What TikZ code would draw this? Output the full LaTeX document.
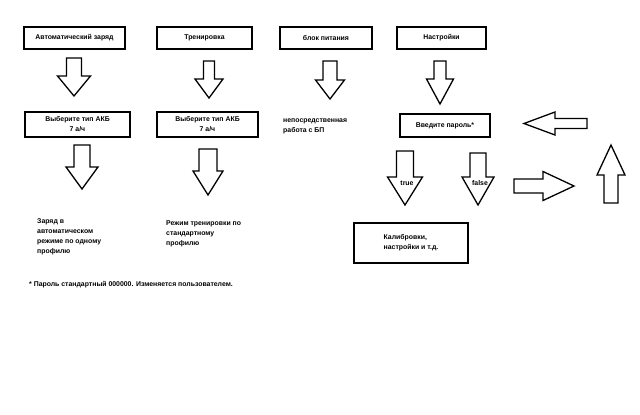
\documentclass[tikz,border=0pt]{standalone}
\usepackage{fontspec}
\setmainfont{Liberation Sans}
\usetikzlibrary{positioning}

\tikzset{
  menubox/.style={draw, line width=2.2pt, inner sep=0pt, align=center},
  blockarr/.style={draw, line width=1.3pt, line join=miter, fill=white},
  plaintext/.style={anchor=west, align=left, inner sep=0pt}
}

% down (or up) block arrow: cx, tail, head start, tip, half shaft, half head
\newcommand{\vertarrow}[6]{%
  \draw[blockarr] (#1-#5,#2) -- (#1+#5,#2) -- (#1+#5,#3) -- (#1+#6,#3) -- (#1,#4)
    -- (#1-#6,#3) -- (#1-#5,#3) -- cycle;}
% left (or right) block arrow: cy, tail, head start, tip, half shaft, half head
\newcommand{\horizarrow}[6]{%
  \draw[blockarr] (#2,#1-#5) -- (#2,#1+#5) -- (#3,#1+#5) -- (#3,#1+#6) -- (#4,#1)
    -- (#3,#1-#6) -- (#3,#1-#5) -- cycle;}

\begin{document}
\begin{tikzpicture}[x=1pt, y=-1pt, font=\bfseries\fontsize{6.9}{10}\selectfont]
			\fill[white] (0,0) rectangle (640,415);
			\useasboundingbox (0,0) rectangle (640,415);

			% top row
			\node[menubox, minimum width=101pt, minimum height=22pt] (auto) at (74.5,38) {Автоматический заряд};
			\node[menubox, minimum width=95pt, minimum height=22pt] (train) at (204.5,38) {Тренировка};
			\node[menubox, minimum width=92pt, minimum height=22pt] (psu) at (326,38) {блок питания};
			\node[menubox, minimum width=89pt, minimum height=22pt] (setup) at (441.5,38) {Настройки};

			\vertarrow{74}{58}{76}{96}{7.5}{16.5}
			\vertarrow{209}{61}{79}{98}{5.5}{14}
			\vertarrow{330}{61}{80}{99}{7}{14.5}
			\vertarrow{440}{61}{79}{104}{6}{13.5}

			% second row
			\node[menubox, minimum width=105pt, minimum height=25pt] (autotype) at (77.5,124.5) {Выберите тип АКБ\\7 а/ч};
			\node[menubox, minimum width=101pt, minimum height=25pt] (traintype) at (207.5,124.5) {Выберите тип АКБ\\7 а/ч};
			\node[plaintext] (psutext) at (283,126) {непосредственная\\работа с БП};
			\node[menubox, minimum width=90pt, minimum height=23pt] (pass) at (445,125.5) {Введите пароль*};

			\horizarrow{123.5}{587}{555}{524}{5}{11.5}

			% third row
			\vertarrow{82}{145}{167}{189}{8}{16}
			\vertarrow{208}{149}{171}{195}{9}{15}
			\vertarrow{405}{151}{177}{205}{8.5}{17.5}
			\vertarrow{478}{153}{177}{205}{8}{16}
			\node (yes) at (407,183) {true};
			\node (no) at (480,183) {false};

			\horizarrow{186}{514}{543}{574}{7}{14.5}
			\vertarrow{611}{203}{175}{145}{7}{14}

			% results
			\node[plaintext] (autores) at (37,237) {Заряд в\\автоматическом\\режиме по одному\\профилю};
			\node[plaintext] (trainres) at (166,234) {Режим тренировки по\\стандартному\\профилю};
			\node[draw, line width=2.2pt, minimum width=114pt, minimum height=40pt, align=left] (calib) at (411,243) {Калибровки,\\настройки и т.д.};

			\node[plaintext] (note) at (29,285) {* Пароль стандартный 000000. Изменяется пользователем.};
		\end{tikzpicture}
\end{document}
